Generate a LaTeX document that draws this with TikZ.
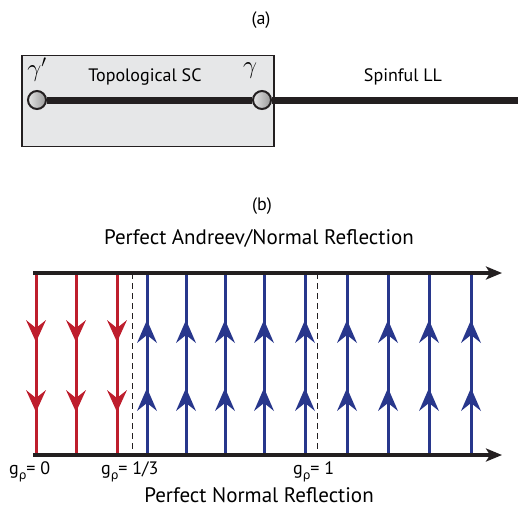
\documentclass[tikz,border=0pt]{standalone}
\usepackage{fontspec}
\setmainfont{PT Sans}
\newfontfamily\grk{DejaVu Sans}
\usetikzlibrary{arrows.meta}
\definecolor{rd}{RGB}{190,30,45}
\definecolor{bl}{RGB}{40,55,140}
\definecolor{ink}{RGB}{35,31,32}
\definecolor{boxgray}{RGB}{230,231,232}
\begin{document}
\begin{tikzpicture}[x=1pt,y=-1pt,
  lbl/.style={font=\fontsize{18}{20}\selectfont, inner sep=0pt},
  big/.style={font=\fontsize{21}{24}\selectfont, inner sep=0pt},
  glbl/.style={font=\fontsize{18}{20}\selectfont, inner sep=0pt, anchor=base west},
  axis/.style={ink, line width=4pt, -{Stealth[length=16pt,width=13pt,inset=4pt]}},
  flowline/.style={line width=3pt},
  dash line/.style={ink, line width=0.8pt, dash pattern=on 6pt off 4pt},
  ball/.style={circle, draw=ink, line width=2pt, minimum size=18pt, inner sep=0pt, left color=gray!20, right color=gray!80}]
\useasboundingbox (0,0) rectangle (518,515);
% (a)
\node[lbl] (la) at (261,20) {(a)};
\node[draw=ink, line width=1.3pt, fill=boxgray, minimum width=252pt, minimum height=91pt, inner sep=0pt] (box) at (148,101) {};
\coordinate (lineend) at (518,100);
\node[ball] (g1) at (37,100) {};
\node[ball] (g2) at (262,100) {};
\draw[ink, line width=7pt] (g1.east) -- (g2.west);
\draw[ink, line width=7pt] (g2.east) -- (lineend);
\node[inner sep=0pt, font=\fontsize{24}{26}\selectfont] (gp) at (37,70) {$\gamma'$};
\node[inner sep=0pt, font=\fontsize{24}{26}\selectfont] (gm) at (250,71) {$\gamma$};
\node[lbl] (tsc) at (145,77) {Topological SC};
\node[lbl] (sll) at (403,77) {Spinful LL};
% (b)
\node[lbl] (lb) at (262,206) {(b)};
\node[big] (top) at (259,238) {Perfect Andreev/Normal Reflection};
\node[big] (bot) at (259,495) {Perfect Normal Reflection};
\coordinate (tl) at (33,273);
\coordinate (tr) at (502,273);
\coordinate (bll) at (33,455);
\coordinate (brr) at (502,455);
\foreach \x in {132,317}{
  \draw[dash line] (\x,273) -- (\x,455);
}
\foreach \x in {36,76,117}{
  \draw[rd, flowline] (\x,273) -- (\x,455);
  \fill[rd] (\x,342) -- (\x-10,320) -- (\x,328) -- (\x+10,320) -- cycle;
  \fill[rd] (\x,412) -- (\x-10,390) -- (\x,398) -- (\x+10,390) -- cycle;
}
\foreach \x in {147,186,225,264,305,347,388,429,471}{
  \draw[bl, flowline] (\x,273) -- (\x,455);
  \fill[bl] (\x,320) -- (\x-10,343) -- (\x,335) -- (\x+10,343) -- cycle;
  \fill[bl] (\x,388) -- (\x-10,411) -- (\x,403) -- (\x+10,411) -- cycle;
}
\draw[axis] (tl) -- (tr);
\draw[axis] (bll) -- (brr);
\node[glbl] (g0) at (9,474) {g\raisebox{-5pt}{\grk\fontsize{12}{14}\selectfont ρ}= 0};
\node[glbl] (g13) at (101,474) {g\raisebox{-5pt}{\grk\fontsize{12}{14}\selectfont ρ}= 1/3};
\node[glbl] (g1v) at (293,474) {g\raisebox{-5pt}{\grk\fontsize{12}{14}\selectfont ρ}= 1};
\end{tikzpicture}
\end{document}
